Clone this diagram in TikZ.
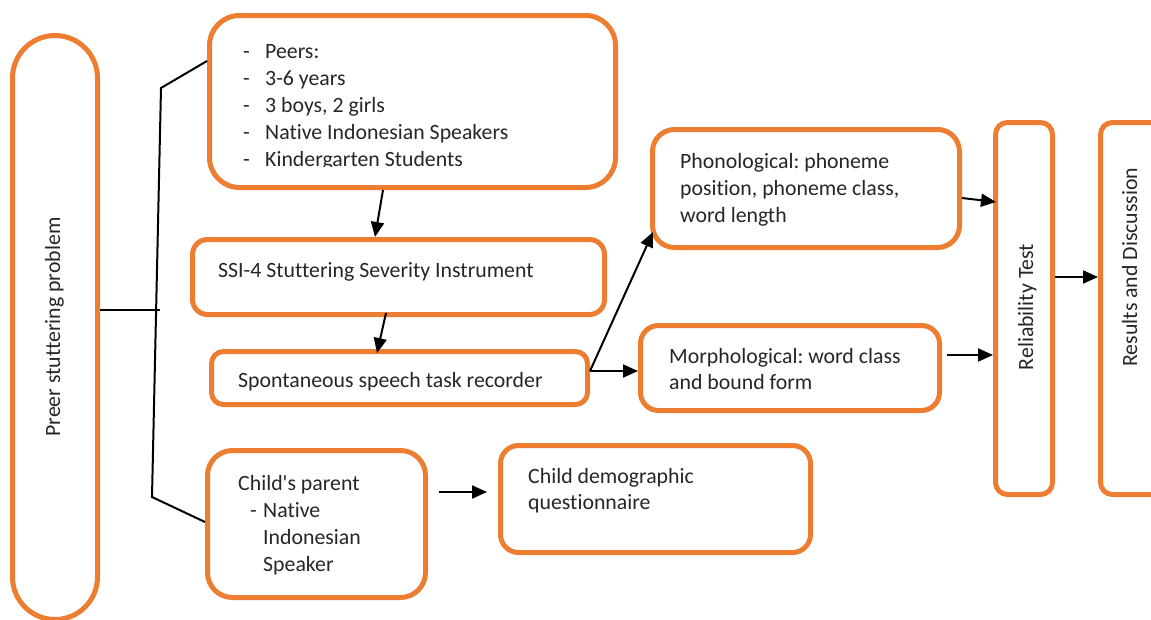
\documentclass[tikz,border=0pt]{standalone}
\usepackage{fontspec}
\setmainfont{Carlito}[Ligatures={NoCommon}]
\usetikzlibrary{arrows.meta}
\definecolor{orng}{HTML}{ED7D31}
\definecolor{txt}{HTML}{262626}
\frenchspacing
\tikzset{
  box/.style={draw=orng, line width=5pt, fill=white, rectangle, inner sep=0pt},
  lbl/.style={inner sep=0pt, font=\fontsize{21.8}{27}\selectfont\frenchspacing, text=txt, anchor=base west},
  vlbl/.style={inner sep=0pt, font=\fontsize{21.8}{27}\selectfont, text=txt, anchor=base, rotate=90},
  arr/.style={line width=2pt, draw=black, -{Triangle[length=15pt,width=13pt]}},
  bus/.style={line width=2pt, draw=black}
}
\begin{document}
\begin{tikzpicture}[x=1pt,y=-1pt]
\useasboundingbox (0,0) rectangle (1151,619);
\clip (0,0) rectangle (1151,619);
\fill[white] (0,0) rectangle (1151,619);

% boxes
\node[box, rounded corners=42.5pt, minimum width=85pt, minimum height=584pt] (prob) at (55,327.5) {};
\node[box, rounded corners=30pt, minimum width=406pt, minimum height=172pt] (peers) at (412.5,101.5) {};
\node[box, rounded corners=15pt, minimum width=412pt, minimum height=75pt] (ssi) at (398.5,277) {};
\node[box, rounded corners=12pt, minimum width=376pt, minimum height=53pt] (spont) at (399.5,378) {};
\node[box, rounded corners=22pt, minimum width=307pt, minimum height=118pt] (phon) at (806,188.5) {};
\node[box, rounded corners=18pt, minimum width=299pt, minimum height=85pt] (morph) at (790,368) {};
\node[box, rounded corners=12pt, minimum width=57pt, minimum height=372pt] (rel) at (1024,308.5) {};
\node[box, rounded corners=12pt, minimum width=67pt, minimum height=372pt] (res) at (1134,308.5) {};
\node[box, rounded corners=25pt, minimum width=218pt, minimum height=147pt] (parent) at (316.5,524) {};
\node[box, rounded corners=18pt, minimum width=310pt, minimum height=107pt] (demo) at (655.5,499) {};

% texts
\node[vlbl] (tprob) at (60,327) {Preer stuttering problem};
\begin{scope}
\clip (200,0) rectangle (620,166.5);
\node[lbl] (tpeers) at (243,58) {\begin{tabular}[t]{@{}p{22pt}@{}l@{}}
-&Peers:\\
-&3-6 years\\
-&3 boys, 2 girls\\
-&Native Indonesian Speakers\\
-&Kindergarten Students
\end{tabular}};
\end{scope}
\node[lbl] (tssi) at (218,277) {SSI-4 Stuttering Severity Instrument};
\node[lbl] (tspont) at (238,387) {Spontaneous speech task recorder};
\node[lbl] (tphon) at (680,168) {\begin{tabular}[t]{@{}l@{}}
Phonological: phoneme\\
position, phoneme class,\\
word length
\end{tabular}};
\node[lbl] (tmorph) at (669,363) {\begin{tabular}[t]{@{}l@{}}
Morphological: word class\\[-1pt]
and bound form
\end{tabular}};
\node[lbl] (tparent) at (238,490) {\begin{tabular}[t]{@{}l@{}}
Child\textquotesingle s parent\\
\hspace*{12pt}\makebox[13pt][l]{-}Native\\
\hspace*{25pt}Indonesian\\
\hspace*{25pt}Speaker
\end{tabular}};
\node[lbl] (tdemo) at (528,483) {\begin{tabular}[t]{@{}l@{}}
Child demographic\\[-1pt]
questionnaire
\end{tabular}};
\node[vlbl] (trel) at (1033,307) {Reliability Test};
\node[vlbl] (tres) at (1137,267) {Results and Discussion};

% bus connector
\coordinate (bt) at (161,88);
\coordinate (bb) at (152,497);
\coordinate (bj) at (160,310);
\draw[bus] ([yshift=40.5]peers.west) -- (bt) -- (bb) -- ([yshift=2]parent.west);
\draw[bus] ([yshift=17.5]prob.east) -- (bj);

% arrows
\draw[arr] ([xshift=-29.5]peers.south) -- ([xshift=-23.5]ssi.north);
\draw[arr] ([xshift=-12.5,yshift=4]ssi.south) -- ([xshift=-22.5,yshift=-4]spont.north);
\draw[arr] ([yshift=7]spont.east) coordinate (sj) -- ([xshift=3,yshift=18]phon.south west);
\draw[arr] (sj) -- (sj -| morph.west);
\draw[arr] ([yshift=-9.5]phon.east) -- ([xshift=3,yshift=106.5]rel.west);
\draw[arr] ([xshift=5,yshift=13]morph.east) coordinate (mj) -- (mj -| rel.west);
\draw[arr] ([yshift=31.5]rel.east) coordinate (rj) -- (rj -| res.west);
\draw[arr] ([xshift=11,yshift=32]parent.east) coordinate (pj) -- ([xshift=-11]pj -| demo.west);
\end{tikzpicture}
\end{document}
